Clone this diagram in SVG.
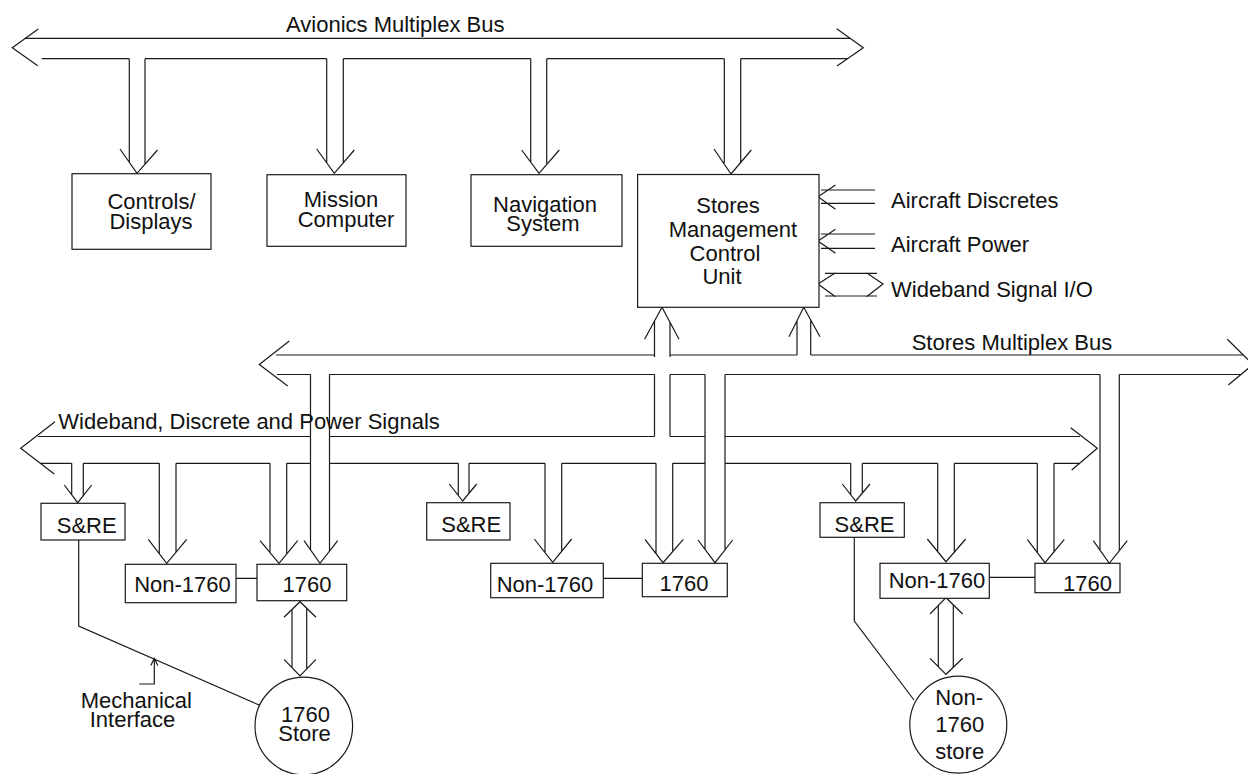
<svg xmlns="http://www.w3.org/2000/svg" width="1248" height="774" viewBox="0 0 1248 774">
<style>
.ln{fill:none;stroke:#1a1a1a;stroke-width:1.2;stroke-linejoin:miter}
.bx{fill:#fff;stroke:#1a1a1a;stroke-width:1.2}
.t{font-family:"Liberation Sans",Arial,sans-serif;font-size:22px;fill:#111}
.m{text-anchor:middle}
</style>
<rect width="1248" height="774" fill="#fff"/>
<g id="connectors" class="ln">
<!-- Avionics Multiplex Bus -->
<path d="M25,38.3H850 M41.7,58.7H129.3 M145,58.7H326.7 M343.3,58.7H530.7 M546.7,58.7H724.3 M740.7,58.7H848"/>
<path d="M38.3,29L12.3,47.7L37.7,65.7 M836.7,28.7L863.3,47.7L837,66"/>
<!-- avionics drops -->
<path d="M129.3,58.7V162.5 M145,58.7V164 M120,149L137,173.3L157.5,150"/>
<path d="M326.7,58.7V162.5 M343.3,58.7V163.5 M316.7,149L334.3,173.3L354.3,150"/>
<path d="M530.7,58.7V162.5 M546.7,58.7V163.5 M521.7,150L539,173.3L559.3,150"/>
<path d="M724.3,58.7V163 M740.7,58.7V163.5 M714,149L731,174L751.3,150"/>
<!-- SMCU side inputs -->
<path d="M821,190H875 M821,203.3H875 M835.5,185L818,196.7L835.5,209.3"/>
<path d="M821,234H875 M821,248.3H875 M835.5,229.3L818,241L835.5,253.3"/>
<path d="M825,273.3H877 M825,296H877 M835.5,272.7L818,284L835.5,296.7 M866.5,272.7L883,284L866.5,296.7"/>
<!-- SMCU up arrows -->
<path d="M654.5,321V357 M670,322.4V357 M654.5,374.5V436.5 M670,374.5V436.5 M644.6,339.3L662,307.3L679,339.3"/>
<path d="M797,320.7V355 M810.7,320V355 M789,336.7L803.7,307.3L820,336.7"/>
<!-- Stores Multiplex Bus -->
<path d="M276,355H654.5 M670,355H797 M810.7,355H1243.3"/>
<path d="M277,374.5H310.5 M329.5,374.5H654.5 M670,374.5H705 M725,374.5H1100 M1119.3,374.5H1241"/>
<path d="M289.3,341L259.3,364.5L287.7,386 M1227.3,339.3L1253,364.5L1228.3,385"/>
<!-- Wideband, Discrete and Power Signals bus -->
<path d="M38,436.5H310.5 M329.5,436.5H654.5 M670,436.5H705 M725,436.5H1080"/>
<path d="M40,463.3H71.7 M83.3,463.3H159.3 M176,463.3H270 M286.7,463.3H310.5 M329.5,463.3H458.3 M469,463.3H545 M561.7,463.3H656 M672.7,463.3H705 M725,463.3H850.7 M862.3,463.3H937.7 M954.3,463.3H1037.3 M1054,463.3H1079"/>
<path d="M55,421.7L20.7,448.3L54.3,474 M1070.7,427.7L1097.3,448.3L1071.7,470"/>
<!-- stores drops -->
<path d="M310.5,374.5V549.9 M329.5,374.5V551.2 M304,540.7L320,563.3L337.7,540.7"/>
<path d="M705,374.5V549.3 M725,374.5V549.9 M698,540L715,562.7L732.7,540"/>
<path d="M1100,374.5V550.2 M1119.3,374.5V550.7 M1093.3,540.7L1109.3,563.3L1127.3,540.7"/>
<!-- wideband drops -->
<path d="M71.7,463.3V494.8 M83.3,463.3V495.6 M64.3,485L77.7,502.7L91.7,485"/>
<path d="M159.3,463.3V553.6 M176,463.3V552.1 M148.3,539.3L166.7,563.3L186.7,539.3"/>
<path d="M270,463.3V552.6 M286.7,463.3V554 M260,540.7L279,563.3L297.7,540.7"/>
<path d="M458.3,463.3V495.4 M469,463.3V493.4 M449.3,484L462.7,501L476.7,484"/>
<path d="M545,463.3V552.5 M561.7,463.3V551.3 M534.3,539L552.7,562.3L571.7,539"/>
<path d="M656,463.3V553.6 M672.7,463.3V551.5 M645,539.3L663,562.7L683.3,539.3"/>
<path d="M850.7,463.3V494.7 M862.3,463.3V493.2 M842.3,484L855.7,501L870,484"/>
<path d="M937.7,463.3V551.6 M954.3,463.3V552.1 M927.3,539L946,561.7L965.7,539"/>
<path d="M1037.3,463.3V552.5 M1054,463.3V551.8 M1027.3,539.3L1045,562.7L1064.3,539.3"/>
<!-- box links -->
<path d="M236,578.3H257 M603.3,578.3H642.3 M989.3,577.3H1035"/>
<!-- store interfaces -->
<path d="M292,609.5V667.7 M306.7,608.2V669 M284,617.3L300,601.7L316,617.3 M284,659.3L300,676L316,659.3"/>
<path d="M938.3,605.5V666.6 M953.3,604.8V667.3 M930,614L946,597.7L962.7,614 M930,658.3L946,674.3L962.7,658.3"/>
<!-- mechanical interface lines -->
<path d="M78.7,540V626L259,705"/>
<path d="M854.3,537.3V621L914,700"/>
<path d="M139.3,684H154.3V659 M150.8,665.5L154.3,658.3L157.8,665.5"/>
</g>
<g id="bus-labels">
<text class="t" x="286" y="32">Avionics Multiplex Bus</text>
<text class="t" x="911.7" y="350">Stores Multiplex Bus</text>
<text class="t" x="58.3" y="429.3">Wideband, Discrete and Power Signals</text>
<text class="t" x="891" y="208">Aircraft Discretes</text>
<text class="t" x="891" y="251.7">Aircraft Power</text>
<text class="t" x="891" y="296.7">Wideband Signal I/O</text>
<text class="t m" x="136.3" y="707.7">Mechanical<tspan x="132.5" dy="19">Interface</tspan></text>
</g>
<g id="controls-displays">
<rect class="bx" x="72" y="173.7" width="139" height="75.6"/>
<text class="t m" x="151.5" y="209">Controls/<tspan x="151" dy="20">Displays</tspan></text>
</g>
<g id="mission-computer">
<rect class="bx" x="267" y="174.7" width="139" height="71.6"/>
<text class="t m" x="341" y="207">Mission<tspan x="346" dy="20">Computer</tspan></text>
</g>
<g id="navigation-system">
<rect class="bx" x="471" y="174.7" width="151" height="71.6"/>
<text class="t m" x="545" y="212">Navigation<tspan x="543" dy="19">System</tspan></text>
</g>
<g id="smcu">
<rect class="bx" x="637.6" y="174.5" width="181.4" height="132.8"/>
<text class="t m" x="728" y="213.3">Stores<tspan x="733" dy="24">Management</tspan><tspan x="725" dy="23.4">Control</tspan><tspan x="722" dy="23.3">Unit</tspan></text>
</g>
<g id="sre-left">
<rect class="bx" x="41" y="503.3" width="84" height="36.7"/>
<text class="t m" x="86.7" y="532.7">S&amp;RE</text>
</g>
<g id="non1760-left">
<rect class="bx" x="125.3" y="564.3" width="110.7" height="38.4"/>
<text class="t m" x="182.5" y="591.7">Non-1760</text>
</g>
<g id="r1760-left">
<rect class="bx" x="257" y="564.3" width="89.7" height="36.4"/>
<text class="t m" x="307" y="591.7">1760</text>
</g>
<g id="sre-mid">
<rect class="bx" x="426.7" y="502.7" width="83.3" height="37.3"/>
<text class="t m" x="471.2" y="531.7">S&amp;RE</text>
</g>
<g id="non1760-mid">
<rect class="bx" x="490.7" y="563.3" width="112.6" height="34.4"/>
<text class="t m" x="545" y="591.7">Non-1760</text>
</g>
<g id="r1760-mid">
<rect class="bx" x="642.3" y="563.3" width="85" height="33.4"/>
<text class="t m" x="684" y="590.7">1760</text>
</g>
<g id="sre-right">
<rect class="bx" x="820" y="502.7" width="84.3" height="34.6"/>
<text class="t m" x="864.5" y="531.7">S&amp;RE</text>
</g>
<g id="non1760-right">
<rect class="bx" x="880" y="563.3" width="109.3" height="35"/>
<text class="t m" x="937" y="588.3">Non-1760</text>
</g>
<g id="r1760-right">
<rect class="bx" x="1035" y="563.3" width="85" height="29.4"/>
<text class="t m" x="1087.5" y="590.7">1760</text>
</g>
<g id="store-1760">
<circle class="bx" cx="303.8" cy="726" r="48.8"/>
<text class="t m" x="305.5" y="721.7">1760<tspan x="304.5" dy="19.3">Store</tspan></text>
</g>
<g id="store-non1760">
<circle class="bx" cx="958.3" cy="724.7" r="48.5"/>
<text class="t m" x="959.2" y="705">Non-<tspan x="959.7" dy="26.7">1760</tspan><tspan x="959.7" dy="27.3">store</tspan></text>
</g>
</svg>
